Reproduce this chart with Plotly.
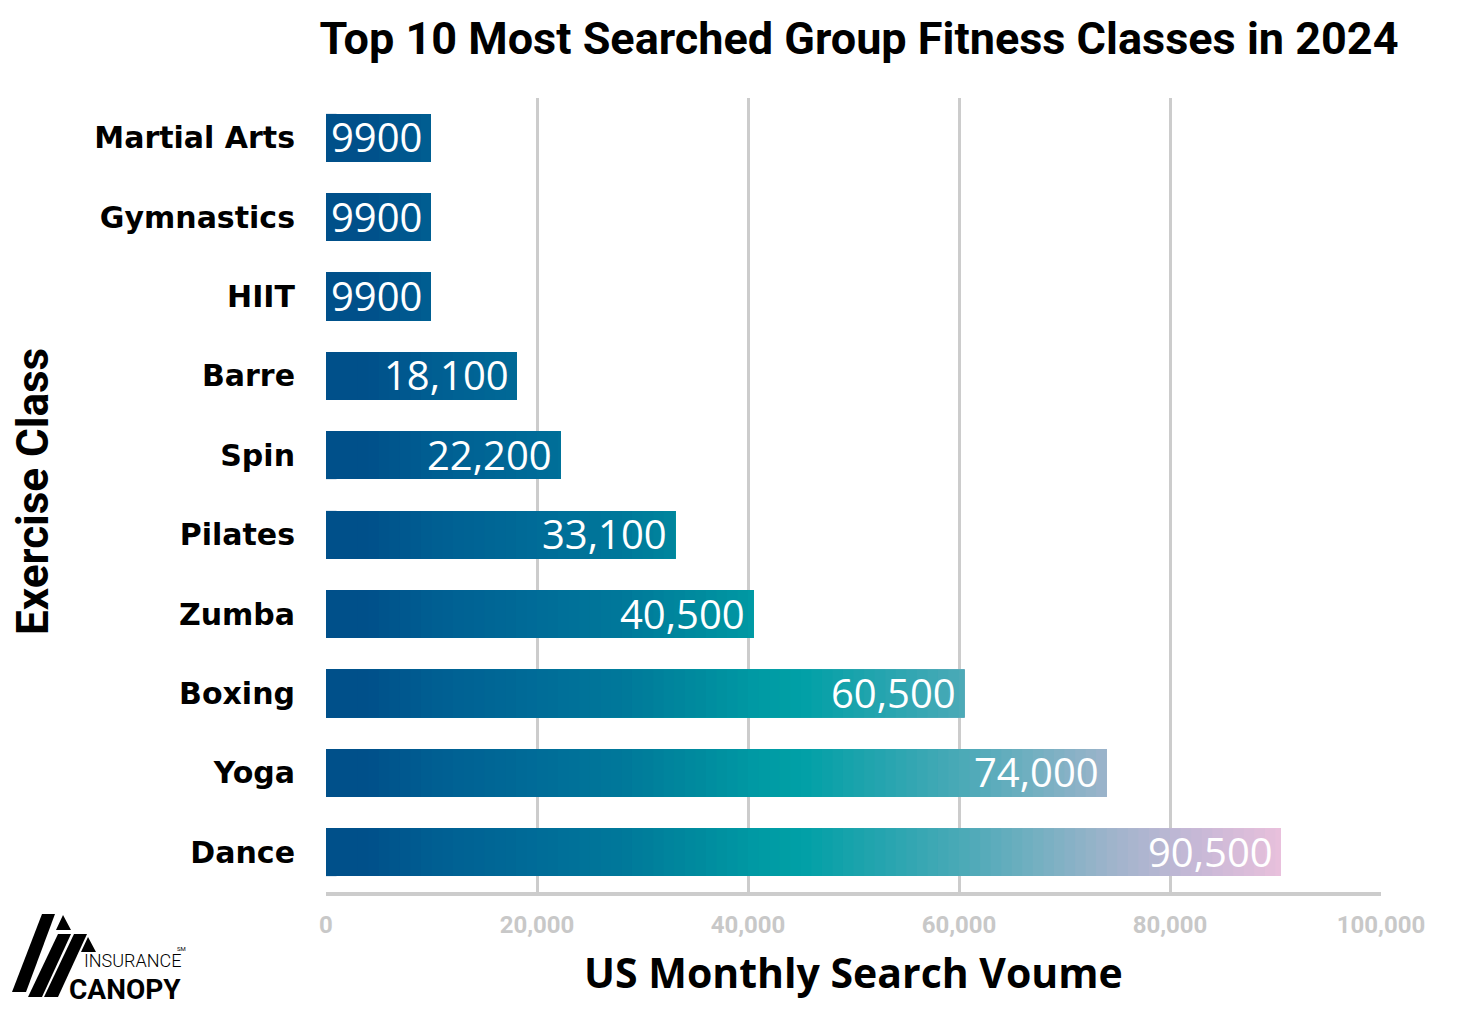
import plotly.graph_objects as go

# ---- data ----
categories = ["Martial Arts", "Gymnastics", "HIIT", "Barre", "Spin",
              "Pilates", "Zumba", "Boxing", "Yoga", "Dance"]
search_volume = [9900, 9900, 9900, 18100, 22200, 33100, 40500, 60500, 74000, 90500]
value_labels = ["9900", "9900", "9900", "18,100", "22,200", "33,100",
                "40,500", "60,500", "74,000", "90,500"]
x_ticks = [0, 20000, 40000, 60000, 80000, 100000]
x_tick_labels = ["0", "20,000", "40,000", "60,000", "80,000", "100,000"]

# ---- style: horizontal colour gradient along the value axis ----
grad_stops = [(0, "#00508a"), (4000, "#00508a"), (10000, "#005e92"),
              (20000, "#006c98"), (28000, "#00789a"), (35000, "#008a9e"),
              (41000, "#009aa4"), (45000, "#00a0a6"), (52000, "#22a4ae"),
              (61000, "#4eaab8"), (68000, "#78b0c2"), (75000, "#a2b4cc"),
              (82000, "#c4b8d6"), (91000, "#eac0dc"), (100000, "#ecc0dc")]


def _rgb(h):
    return tuple(int(h[i:i + 2], 16) for i in (1, 3, 5))


def grad_color(x):
    for (x0, c0), (x1, c1) in zip(grad_stops[:-1], grad_stops[1:]):
        if x <= x1:
            t = (x - x0) / (x1 - x0)
            a, b = _rgb(c0), _rgb(c1)
            return "rgb(%d,%d,%d)" % tuple(round(p + (q - p) * t) for p, q in zip(a, b))
    return grad_stops[-1][1]


fig = go.Figure()

step = 1000
edges = list(range(100000, 0, -step))  # longest first, shorter drawn on top
for e in edges:
    fig.add_trace(go.Bar(
        y=categories,
        x=[min(v, e) for v in search_volume],
        orientation="h",
        width=0.6,
        marker=dict(color=grad_color(e - step / 2), line=dict(width=0)),
        hoverinfo="skip",
        showlegend=False,
    ))

# value labels inside the bar ends
for cat, v, lab in zip(categories, search_volume, value_labels):
    fig.add_annotation(x=v, y=cat, xref="x", yref="y", text=lab,
                       xanchor="right", yanchor="middle", xshift=-6, yshift=1,
                       showarrow=False,
                       font=dict(family="Open Sans", size=40, color="white"))

OFF = 8  # page offset of the figure (body margin)
W, H = 1458, 1009
L, R, T, B = 326 - OFF, 1381 - OFF, 98 - OFF, 892 - OFF
pw, ph = R - L, B - T


def px(xp):
    return (xp - OFF - L) / pw


def py(yp):
    return (B - (yp - OFF)) / ph


# axis titles
fig.add_annotation(x=px(33), y=py(492), xref="paper", yref="paper",
                   text="<b>Exercise Class</b>", textangle=-90, showarrow=False,
                   xanchor="center", yanchor="middle",
                   font=dict(family="Roboto", size=44, color="black"))
fig.add_annotation(x=px(853), y=py(972), xref="paper", yref="paper",
                   text="<b>US Monthly Search Voume</b>", showarrow=False,
                   xanchor="center", yanchor="middle",
                   font=dict(family="Open Sans", size=41, color="black"))

# logo (decorative)
stripes = [
    [(42, 914), (55, 914), (26, 992), (12, 992)],
    [(58, 934), (71, 934), (42, 997), (28, 997)],
    [(74, 934), (87, 934), (58, 997), (44, 997)],
]
tris = [[(63, 915), (56, 930), (71, 930)], [(88, 937), (81, 952), (96, 952)]]
shapes = []
for poly in stripes + tris:
    path = "M " + " L ".join("%f,%f" % (px(a), py(b)) for a, b in poly) + " Z"
    shapes.append(dict(type="path", xref="paper", yref="paper", path=path,
                       fillcolor="black", line=dict(width=0), layer="above"))
fig.update_layout(shapes=shapes)
fig.add_annotation(x=px(133), y=py(960), xref="paper", yref="paper",
                   text="INSURANCE", showarrow=False, xanchor="center", yanchor="middle",
                   font=dict(family="Roboto", size=18, color="black", weight=300))
fig.add_annotation(x=px(125), y=py(989), xref="paper", yref="paper",
                   text="<b>CANOPY</b>", showarrow=False, xanchor="center", yanchor="middle",
                   font=dict(family="Roboto", size=28, color="black", weight=900))
fig.add_annotation(x=px(181), y=py(949), xref="paper", yref="paper",
                   text="SM", showarrow=False, xanchor="center", yanchor="middle",
                   font=dict(family="Roboto", size=6, color="black"))

fig.update_layout(
    width=W, height=H,
    barmode="overlay",
    paper_bgcolor="white", plot_bgcolor="white",
    margin=dict(l=L, r=W - R, t=T, b=H - B, autoexpand=False),
    title=dict(text="<b>Top 10 Most Searched Group Fitness Classes in 2024</b>",
               x=(859 - OFF) / W, y=1 - (38 - OFF) / H, xanchor="center", yanchor="middle",
               font=dict(family="Roboto", size=45, color="black")),
    xaxis=dict(range=[0, 100000], tickvals=x_ticks, ticktext=x_tick_labels,
               showgrid=True, gridcolor="#cccccc", gridwidth=3,
               zeroline=False, showline=True, linecolor="#cccccc", linewidth=4,
               ticks="", ticklabelstandoff=8,
               tickfont=dict(family="Roboto", size=24, color="#c8c8c8", weight="bold"),
               fixedrange=True),
    yaxis=dict(categoryorder="array", categoryarray=categories[::-1],
               range=[-0.5, 9.5], showgrid=False, zeroline=False, showline=False,
               ticks="", ticklabelstandoff=30,
               tickfont=dict(family="DejaVu Sans", size=30, color="black", weight="bold"),
               fixedrange=True),
)

fig.write_html("out.html")
